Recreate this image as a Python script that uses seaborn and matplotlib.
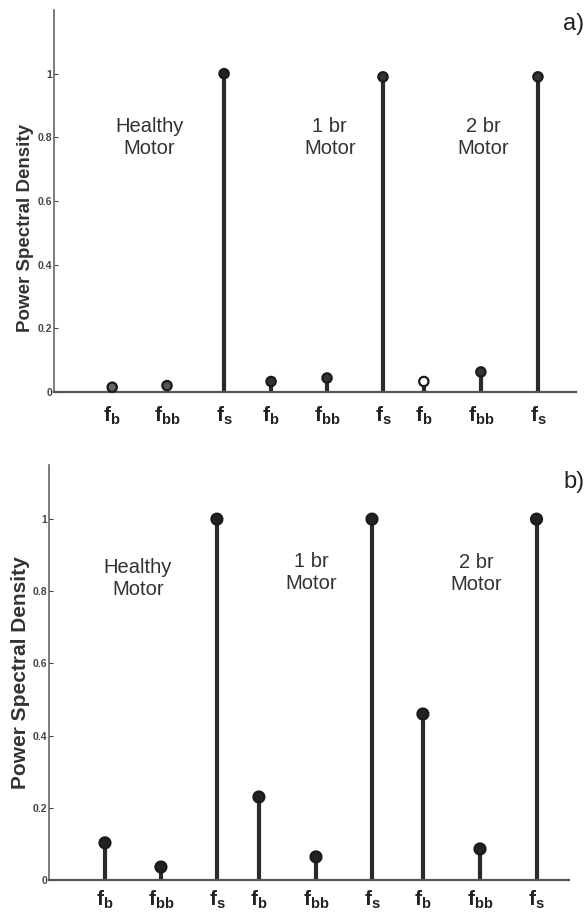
import matplotlib
matplotlib.use("Agg")
import matplotlib.pyplot as plt
import seaborn as sns
import pandas as pd

# ---- data ----
tick_labels = [r"$\mathrm{f_{b}}$", r"$\mathrm{f_{bb}}$", r"$\mathrm{f_{s}}$"] * 3
groups = ["Healthy\nMotor", "1 br\nMotor", "2 br\nMotor"]

pos_a = [1.0, 1.98, 3.0, 3.84, 4.84, 5.84, 6.57, 7.59, 8.61]
psd_a = [0.015, 0.02, 1.0, 0.033, 0.044, 0.99, 0.033, 0.063, 0.99]
fill_a = ["#666666", "#555555", "#222222", "#333333", "#333333", "#333333", "#ffffff", "#333333", "#333333"]

pos_b = [1.0, 2.0, 3.0, 3.75, 4.77, 5.77, 6.68, 7.70, 8.71]
psd_b = [0.103, 0.036, 1.0, 0.23, 0.064, 1.0, 0.46, 0.086, 1.0]
fill_b = ["#222222"] * 9

ytick_vals = [0, 0.2, 0.4, 0.6, 0.8, 1.0]
ytick_text = ["0", "0.2", "0.4", "0.6", "0.8", "1"]

sns.set_theme(style="white")
sans = ["Liberation Sans", "DejaVu Sans"]
plt.rcParams["font.family"] = sans
plt.rcParams["mathtext.fontset"] = "custom"
plt.rcParams["mathtext.rm"] = "Liberation Sans:bold"
plt.rcParams["mathtext.it"] = "Liberation Sans:bold"
plt.rcParams["mathtext.bf"] = "Liberation Sans:bold"

fig = plt.figure(figsize=(5.87, 9.17), dpi=100)

def panel(rect, pos, psd, fills, ylim, xlim, text_pos, label_pos, label_size,
          tick_pad, ms, lw):
    ax = fig.add_axes(rect)
    df = pd.DataFrame({"pos": pos, "psd": psd})
    ax.vlines(df["pos"], 0, df["psd"], color="#2a2a2a", lw=lw, zorder=2)
    sns.scatterplot(data=df, x="pos", y="psd", ax=ax, s=ms, color="#2a2a2a",
                    edgecolor="#1a1a1a", linewidth=1.6, zorder=3, legend=False,
                    clip_on=False)
    ax.collections[-1].set_facecolors(fills)
    ax.set_xlim(*xlim)
    ax.set_ylim(*ylim)
    for s in ["top", "right"]:
        ax.spines[s].set_visible(False)
    ax.spines["left"].set_color("#666666")
    ax.spines["left"].set_linewidth(1.2)
    ax.spines["bottom"].set_color("#555555")
    ax.spines["bottom"].set_linewidth(1.6)
    ax.set_yticks(ytick_vals)
    ax.set_yticklabels(ytick_text, fontsize=7.5, color="#444444",
                       fontweight="bold")
    ax.tick_params(axis="y", direction="in", length=3, width=0.8, pad=1,
                   colors="#444444", left=True)
    ax.set_xticks(pos)
    ax.set_xticklabels(tick_labels, fontsize=15, color="#222222")
    ax.tick_params(axis="x", length=0, pad=tick_pad)
    ax.set_xlabel("")
    ax.set_ylabel("Power Spectral Density", fontsize=label_size,
                  fontweight="bold", color="#333333")
    ax.yaxis.set_label_coords(*label_pos)
    for g, (tx, ty) in zip(groups, text_pos):
        ax.text(tx, ty, g, ha="center", va="center", fontsize=14.5,
                color="#333333", linespacing=1.2)
    ax.grid(False)
    return ax

ax_a = panel([54 / 587, 1 - 392 / 917, (576 - 54) / 587, (392 - 10) / 917],
             pos_a, psd_a, fill_a, (0, 1.2), (-0.04, 9.29),
             [(1.66, 0.80), (4.89, 0.80), (7.63, 0.80)],
             (-0.039, 0.43), 13.5, 9, 45, 3.0)

ax_b = panel([49 / 587, 1 - 880 / 917, (569 - 49) / 587, (880 - 465) / 917],
             pos_b, psd_b, fill_b, (0, 1.15), (0.0, 9.29),
             [(1.59, 0.836), (4.68, 0.852), (7.63, 0.85)],
             (-0.037, 0.50), 15, 6, 62, 3.0)

fig.text(574 / 587, 1 - 24 / 917, "a)", ha="center", va="center",
         fontsize=17, color="#222222")
fig.text(585 / 587, 1 - 482 / 917, "b)", ha="right", va="center",
         fontsize=17, color="#222222")

fig.savefig("out.png", dpi=100, facecolor="white")
